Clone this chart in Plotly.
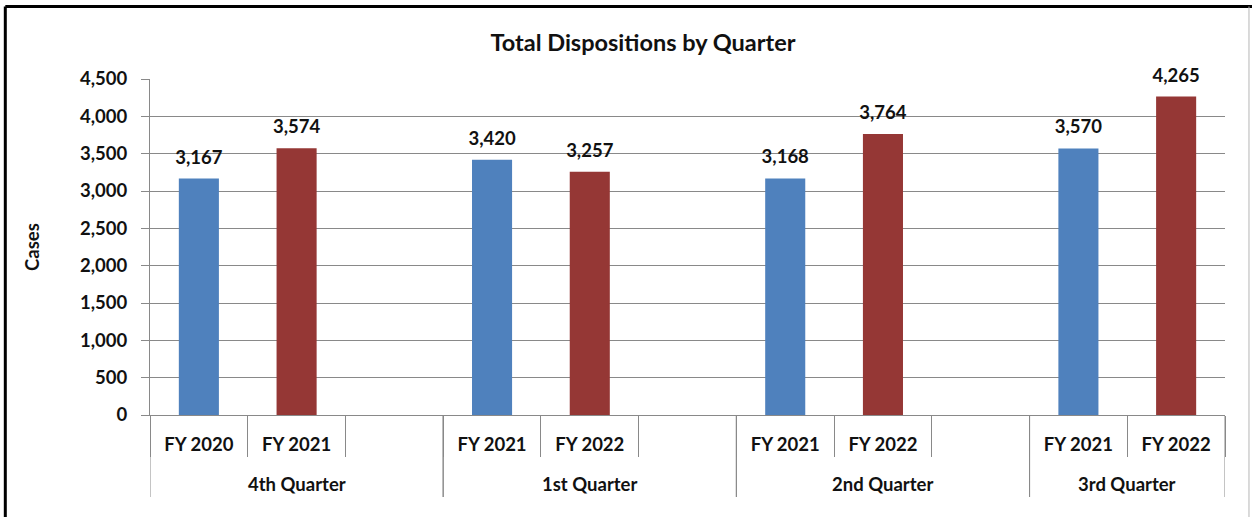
import plotly.graph_objects as go

quarters = ["4th Quarter", "4th Quarter", "4th Quarter",
            "1st Quarter", "1st Quarter", "1st Quarter",
            "2nd Quarter", "2nd Quarter", "2nd Quarter",
            "3rd Quarter", "3rd Quarter"]
years = ["FY 2020", "FY 2021", "", "FY 2021", "FY 2022", "", "FY 2021", "FY 2022", "", "FY 2021", "FY 2022"]
values = [3167, 3574, None, 3420, 3257, None, 3168, 3764, None, 3570, 4265]
colors = ["#4F81BD", "#953735", "#4F81BD", "#4F81BD", "#953735", "#4F81BD",
          "#4F81BD", "#953735", "#4F81BD", "#4F81BD", "#953735"]
y_ticks = [0, 500, 1000, 1500, 2000, 2500, 3000, 3500, 4000, 4500]

FONT = "Lato"
TXT = "#111111"
GRID = "#898989"

pos = list(range(len(years)))
labels = [f"{v:,}" if v is not None else "" for v in values]

# group extents derived from the category list
groups = []
for i, q in enumerate(quarters):
    if groups and groups[-1][0] == q:
        groups[-1][2] = i
    else:
        groups.append([q, i, i])

fig = go.Figure()
fig.add_trace(go.Bar(
    x=pos, y=values, marker=dict(color=colors, line=dict(width=0)),
    width=0.41, showlegend=False, hoverinfo="y",
))
fig.add_trace(go.Scatter(
    x=pos, y=values, mode="markers+text", text=labels,
    textposition="top center", marker=dict(size=15, opacity=0),
    textfont=dict(family=FONT, size=18.5, color=TXT, weight="bold"),
    showlegend=False, hoverinfo="skip", cliponaxis=False,
))

fig.update_layout(
    width=1252, height=517,
    margin=dict(l=150, r=27, t=79, b=102),
    plot_bgcolor="white", paper_bgcolor="white",
    font=dict(family=FONT, size=18.5, color=TXT),
    title=dict(text="<b>Total Dispositions by Quarter</b>", xref="paper", x=0.4586, xanchor="center",
               y=1 - 43 / 517, yanchor="middle", font=dict(family=FONT, size=23.5, color=TXT)),
)
fig.update_yaxes(
    range=[0, 4500], tickmode="array", tickvals=y_ticks, ticktext=[f"{t:,}" for t in y_ticks],
    showgrid=True, gridcolor=GRID, gridwidth=1,
    showline=True, linecolor=GRID, linewidth=1, ticks="outside", ticklen=8, tickcolor=GRID,
    ticklabelstandoff=10,
    tickfont=dict(family=FONT, size=18.5, color=TXT, weight="bold"),
    zeroline=False, fixedrange=True,
)
boundaries = [i - 0.5 for i in pos] + [pos[-1] + 0.5]
fig.update_xaxes(
    range=[-0.5, len(years) - 0.5], tickmode="array",
    tickvals=[p for p, y in zip(pos, years) if y], ticktext=[y for y in years if y],
    ticks="", ticklabelstandoff=13,
    minor=dict(tickmode="array", tickvals=boundaries, ticks="outside", ticklen=41,
               tickcolor=GRID, tickwidth=1, showgrid=False),
    showline=True, linecolor=GRID, linewidth=1, showgrid=False, zeroline=False,
    tickfont=dict(family=FONT, size=18.5, color=TXT, weight="bold"),
    fixedrange=True,
)
# group dividers and group labels
for name, a, b in groups:
    for xb in (a - 0.5, b + 0.5):
        fig.add_shape(type="line", xref="x", yref="paper", x0=xb, x1=xb, y0=0, y1=-82 / 336,
                      line=dict(color=GRID, width=1))
    fig.add_annotation(text=f"<b>{name}</b>", xref="x", yref="paper", x=(a + b) / 2, y=-69 / 336,
                       showarrow=False, yanchor="middle",
                       font=dict(family=FONT, size=18.5, color=TXT))
# y axis title
fig.add_annotation(text="<b>Cases</b>", xref="paper", yref="paper", x=(32 - 150) / 1075, y=0.5,
                   textangle=-90, showarrow=False, xanchor="center", yanchor="middle",
                   font=dict(family=FONT, size=18.5, color=TXT))
# outer frame of the chart area
fig.add_shape(type="line", xref="paper", yref="paper", x0=-0.1346, x1=1.03, y0=1.2158, y1=1.2158,
              line=dict(color="black", width=3))
fig.add_shape(type="line", xref="paper", yref="paper", x0=-0.1346, x1=-0.1346, y0=-0.32, y1=1.2158,
              line=dict(color="black", width=3))
fig.add_shape(type="line", xref="paper", yref="paper", x0=1.0223, x1=1.0223, y0=-0.32, y1=1.2158,
              line=dict(color="#b5b5b5", width=1))
fig.write_html("out.html", config={"displayModeBar": False},
               post_script="document.body.style.margin='0';")
